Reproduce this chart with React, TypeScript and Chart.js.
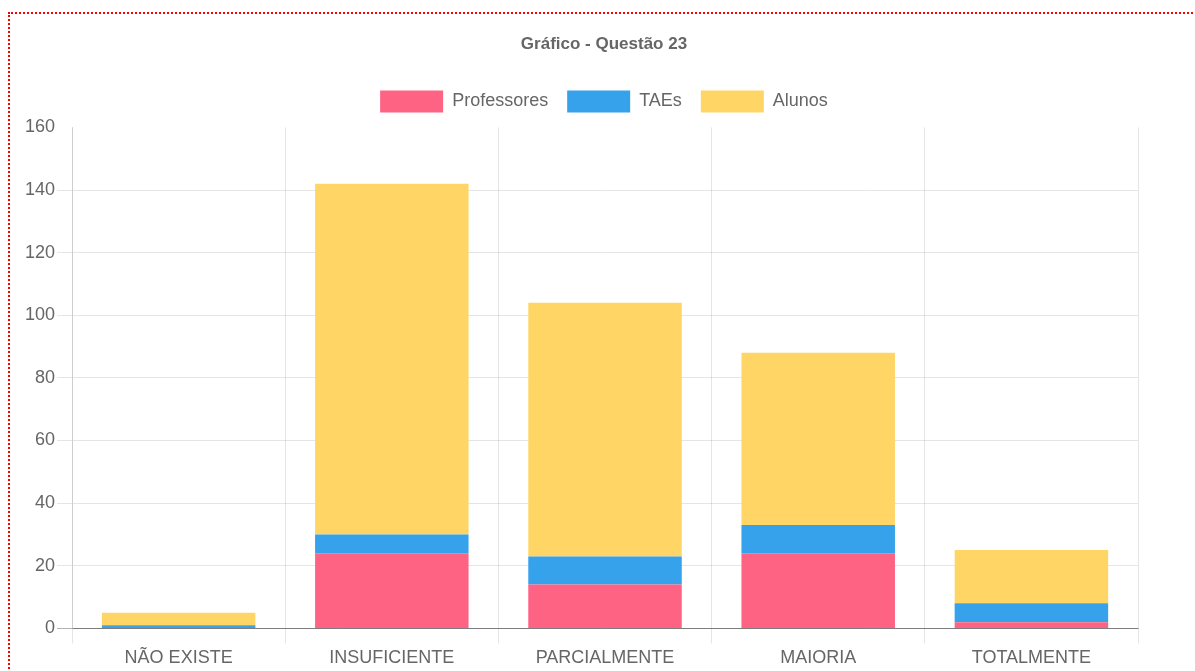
import React, { useEffect, useRef } from "react";
import { Chart, registerables } from "chart.js";

Chart.register(...registerables);

const categories = ["NÃO EXISTE", "INSUFICIENTE", "PARCIALMENTE", "MAIORIA", "TOTALMENTE"];
const professores = [0, 24, 14, 24, 2];
const taes = [1, 6, 9, 9, 6];
const alunos = [4, 112, 81, 55, 17];
const yTicks = { min: 0, max: 160, step: 20 };
const titleText = "Gráfico - Questão 23";

const FONT = "'Liberation Sans', Arial, Helvetica, sans-serif";
const GREY = "#666";

export default function App() {
  const ref = useRef<HTMLCanvasElement | null>(null);

  useEffect(() => {
    if (!ref.current) return;
    const chart = new Chart(ref.current, {
      type: "bar",
      data: {
        labels: categories,
        datasets: [
          { label: "Professores", data: professores, backgroundColor: "rgb(255,99,132)", borderWidth: 0 },
          { label: "TAEs", data: taes, backgroundColor: "rgb(54,162,235)", borderWidth: 0 },
          { label: "Alunos", data: alunos, backgroundColor: "rgb(255,214,102)", borderWidth: 0 },
        ],
      },
      options: {
        responsive: false,
        animation: false,
        layout: { padding: { top: 9, left: 13, right: 10, bottom: 0 } },
        plugins: {
          title: {
            display: true,
            text: titleText,
            color: GREY,
            font: { family: FONT, size: 17, weight: "bold" },
            padding: { top: 11, bottom: 17 },
          },
          subtitle: {
            display: true,
            text: "",
            weight: 500,
            font: { size: 5, lineHeight: 1 },
            padding: 0,
          },
          legend: {
            labels: {
              color: GREY,
              font: { family: FONT, size: 18 },
              boxWidth: 63,
              boxHeight: 22,
              padding: 19,
            },
          },
          tooltip: { enabled: false },
        },
        scales: {
          x: {
            stacked: true,
            grid: {
              color: "rgba(0,0,0,0.1)",
              tickLength: 15,
              offset: true,
            },
            border: { color: "rgba(0,0,0,0.3)" },
            ticks: { color: GREY, font: { family: FONT, size: 18 }, padding: 4 },
          },
          y: {
            stacked: true,
            min: yTicks.min,
            max: yTicks.max,
            ticks: { stepSize: yTicks.step, color: GREY, font: { family: FONT, size: 18 }, padding: 2 },
            grid: {
              tickLength: 15,
              color: (ctx: any) =>
                ctx.tick && ctx.tick.value === yTicks.max
                  ? "rgba(0,0,0,0)"
                  : ctx.tick && ctx.tick.value === 0
                  ? "rgba(0,0,0,0.3)"
                  : "rgba(0,0,0,0.1)",
            },
            border: { color: "rgba(0,0,0,0.1)" },
          },
          yRight: {
            position: "right",
            display: true,
            grid: { display: false },
            border: { display: false },
            ticks: { display: false },
            afterFit: (scale: any) => {
              scale.width = 47;
            },
          },
        },
      },
    } as any);
    return () => chart.destroy();
  }, []);

  return (
    <div
      style={{
        position: "absolute",
        left: 8,
        top: 12,
        width: 1200,
        height: 700,
        border: "2px dotted rgb(255,0,0)",
        boxSizing: "border-box",
      }}
    >
      <canvas
        ref={ref}
        width={1185}
        height={659}
        style={{ position: "absolute", left: 0, top: 0, width: 1185, height: 659 }}
      />
    </div>
  );
}
